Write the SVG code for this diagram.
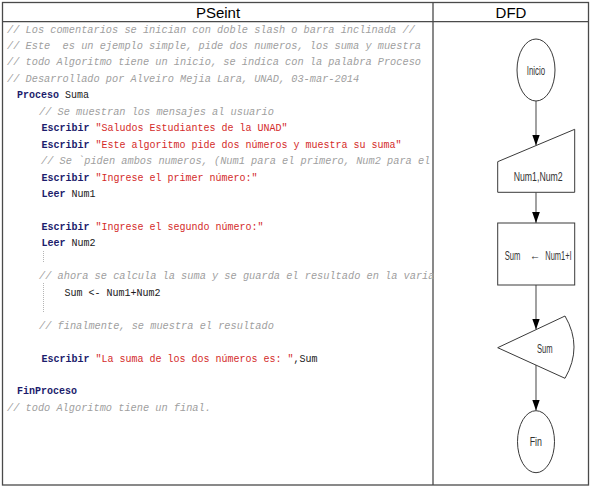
<svg xmlns="http://www.w3.org/2000/svg" width="592" height="488" viewBox="0 0 592 488">
<style>
.hdr{font-family:"Liberation Sans",Arial,sans-serif;font-size:15px;fill:#000;text-anchor:middle}
.code{font-family:"Liberation Mono","Courier New",monospace;font-size:10px;fill:#1a1a1a;white-space:pre}
.cm{font-family:"Liberation Mono","Courier New",monospace;font-size:10.3px;font-style:italic;fill:#a0a0a0;white-space:pre}
.kw{font-weight:bold;fill:#1c1c6c}
.str{fill:#d42a2a}
.grid{fill:none;stroke:#4a4a4a;stroke-width:1.3}
.shape{fill:#fff;stroke:#3a3a3a;stroke-width:1}
.lbl{font-family:"Liberation Sans",Arial,sans-serif;font-size:12.5px;fill:#333}
.conn{stroke:#7a7a7a;stroke-width:1.4;fill:none;marker-end:url(#ah)}
.guide{stroke:#b5b5b5;stroke-width:1;stroke-dasharray:1 1}
</style>
<defs>
<marker id="ah" markerUnits="userSpaceOnUse" markerWidth="11" markerHeight="8" refX="10" refY="3.5" orient="auto" viewBox="0 0 10 7">
<path d="M0,0 L10,3.5 L0,7 Z" fill="#000"/>
</marker>
</defs>
<rect x="0" y="0" width="592" height="488" fill="#fff"/>
<g id="table">
<rect class="grid" x="2.5" y="2.5" width="586" height="482.5"/>
<line class="grid" x1="2.5" y1="21.7" x2="588.5" y2="21.7"/>
<line class="grid" x1="433" y1="2.5" x2="433" y2="485"/>
<text class="hdr" x="218" y="17.5">PSeint</text>
<text class="hdr" x="511" y="17.5">DFD</text>
</g>
<g id="code">
<text class="cm" x="7" y="32.5" xml:space="preserve">// Los comentarios se inician con doble slash o barra inclinada //</text>
<text class="cm" x="7" y="49" xml:space="preserve">// Este  es un ejemplo simple, pide dos numeros, los suma y muestra</text>
<text class="cm" x="7" y="65.4" xml:space="preserve">// todo Algoritmo tiene un inicio, se indica con la palabra Proceso</text>
<text class="cm" x="7" y="81.9" xml:space="preserve">// Desarrollado por Alveiro Mejia Lara, UNAD, 03-mar-2014</text>
<text class="code" x="17" y="98.3" xml:space="preserve"><tspan class="kw">Proceso</tspan> Suma</text>
<text class="cm" x="39" y="114.8" xml:space="preserve">// Se muestran los mensajes al usuario</text>
<text class="code" x="41.5" y="131.2" xml:space="preserve"><tspan class="kw">Escribir</tspan> <tspan class="str">"Saludos Estudiantes de la UNAD"</tspan></text>
<text class="code" x="41.5" y="147.7" xml:space="preserve"><tspan class="kw">Escribir</tspan> <tspan class="str">"Este algoritmo pide dos números y muestra su suma"</tspan></text>
<text class="cm" x="41" y="164.1" xml:space="preserve">// Se `piden ambos numeros, (Num1 para el primero, Num2 para el</text>
<text class="code" x="41.5" y="180.6" xml:space="preserve"><tspan class="kw">Escribir</tspan> <tspan class="str">"Ingrese el primer número:"</tspan></text>
<text class="code" x="41.5" y="197" xml:space="preserve"><tspan class="kw">Leer</tspan> Num1</text>
<text class="code" x="41.5" y="229.9" xml:space="preserve"><tspan class="kw">Escribir</tspan> <tspan class="str">"Ingrese el segundo número:"</tspan></text>
<text class="code" x="41.5" y="246.4" xml:space="preserve"><tspan class="kw">Leer</tspan> Num2</text>
<text class="cm" x="39" y="279.3" xml:space="preserve">// ahora se calcula la suma y se guarda el resultado en la varia</text>
<text class="code" x="64.5" y="295.7" xml:space="preserve">Sum &lt;- Num1+Num2</text>
<text class="cm" x="39" y="328.6" xml:space="preserve">// finalmente, se muestra el resultado</text>
<text class="code" x="41.5" y="361.5" xml:space="preserve"><tspan class="kw">Escribir</tspan> <tspan class="str">"La suma de los dos números es: "</tspan>,Sum</text>
<text class="code" x="17" y="394.4" xml:space="preserve"><tspan class="kw">FinProceso</tspan></text>
<text class="cm" x="7" y="410.9" xml:space="preserve">// todo Algoritmo tiene un final.</text>
<line class="guide" x1="43.5" y1="251" x2="43.5" y2="263"/>
<line class="guide" x1="43.5" y1="283" x2="43.5" y2="312"/>
</g>
<g id="connectors">
<line class="conn" x1="536" y1="101" x2="536" y2="145.5"/>
<line class="conn" x1="536" y1="192.3" x2="536" y2="223"/>
<line class="conn" x1="536" y1="285" x2="536" y2="329.5"/>
<line class="conn" x1="536" y1="365" x2="536" y2="410.5"/>
</g>
<g id="inicio">
<ellipse class="shape" cx="536" cy="70" rx="19" ry="31"/>
<text class="lbl" x="526.8" y="74.5" textLength="18.3" lengthAdjust="spacingAndGlyphs">Inicio</text>
</g>
<g id="leer">
<path class="shape" d="M497.7,161.7 L574.7,129.3 L574.7,192.3 L497.7,192.3 Z"/>
<text class="lbl" x="513.7" y="181" textLength="49" lengthAdjust="spacingAndGlyphs">Num1,Num2</text>
</g>
<g id="asignar">
<rect class="shape" x="497.7" y="223" width="77" height="62"/>
<text class="lbl" x="504.7" y="259.5" textLength="15.7" lengthAdjust="spacingAndGlyphs">Sum</text>
<text class="lbl" x="529.8" y="259.5" textLength="10.5" lengthAdjust="spacingAndGlyphs">←</text>
<text class="lbl" x="545.3" y="259.5" textLength="26" lengthAdjust="spacingAndGlyphs">Num1+l</text>
</g>
<g id="mostrar">
<path class="shape" d="M497.7,347.7 L565,316 Q583,347 565,378.3 Z"/>
<text class="lbl" x="537" y="352.5" textLength="15.7" lengthAdjust="spacingAndGlyphs">Sum</text>
</g>
<g id="fin">
<ellipse class="shape" cx="536" cy="441.7" rx="18.5" ry="31"/>
<text class="lbl" x="529.7" y="446.2" textLength="12.3" lengthAdjust="spacingAndGlyphs">Fin</text>
</g>
</svg>
